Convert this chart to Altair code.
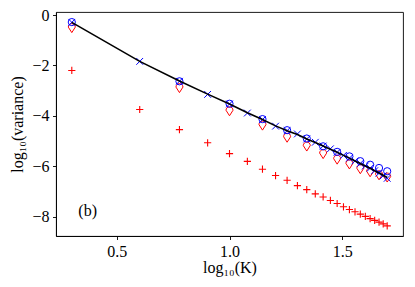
import altair as alt
import numpy as np
import pandas as pd

# K values (x = log10 K)
K_all = [2, 4, 6, 8, 10, 12, 14, 16, 18, 20, 22, 24, 26, 28, 30, 32, 34, 36, 38, 40, 42, 44, 46, 48, 50]
K_sub = [2, 6, 10, 14, 18, 22, 26, 30, 34, 38, 42, 46, 50]

# black curve (theory)
line_y = [-0.29, -1.84, -2.62, -3.14, -3.53, -3.88, -4.15, -4.40, -4.59, -4.74, -4.92, -5.06, -5.20,
          -5.33, -5.45, -5.57, -5.68, -5.79, -5.89, -5.99, -6.08, -6.18, -6.27, -6.36, -6.45]
# blue crosses
cross_y = [-0.29, -1.84, -2.63, -3.15, -3.53, -3.89, -4.15, -4.41, -4.59, -4.72, -4.92, -5.05, -5.20,
           -5.31, -5.45, -5.57, -5.68, -5.79, -5.89, -5.99, -6.08, -6.18, -6.28, -6.38, -6.48]
# blue open circles
circle_y = [-0.28, -2.63, -3.52, -4.13, -4.57, -4.90, -5.21, -5.43, -5.61, -5.80, -5.94, -6.07, -6.20]
# red pin markers
pin_y = [-0.50, -2.88, -3.80, -4.37, -4.85, -5.20, -5.50, -5.72, -5.91, -6.10, -6.22, -6.34, -6.43]
# red plus markers
plus_y = [-2.20, -3.75, -4.55, -5.07, -5.50, -5.81, -6.12, -6.37, -6.56, -6.77, -6.93, -7.10, -7.22,
          -7.36, -7.48, -7.61, -7.72, -7.81, -7.90, -7.99, -8.08, -8.15, -8.22, -8.29, -8.37]

x_ticks = [0.5, 1.0, 1.5]
y_ticks = [0, -2, -4, -6, -8]


def frame(K, y):
    return pd.DataFrame({"x": np.log10(np.array(K, dtype=float)), "y": y})


FONT = "Liberation Serif"
W, H = 347, 224

xs = alt.Scale(domain=[0.231, 1.769], nice=False, zero=False)
ys = alt.Scale(domain=[-8.77, 0.12], nice=False, zero=False)

X = alt.X("x:Q", scale=xs, axis=alt.Axis(
    values=x_ticks, format=".1f", title="log₁₀(K)", grid=False,
    titleX=W / 2, titleY=31, titleAlign="center", titleBaseline="middle"))
Y = alt.Y("y:Q", scale=ys, axis=alt.Axis(
    values=y_ticks, format="d", title="log₁₀(variance)", grid=False,
    titleX=-39, titleY=H / 2, titleAngle=270, titleAlign="center", titleBaseline="middle"))

plus_path = "M -1 0 L 1 0 M 0 -1 L 0 1"
x_path = "M -1 -1 L 1 1 M -1 1 L 1 -1"
pin_path = "M -0.7 -0.1 A 0.7 0.7 0 1 1 0.7 -0.1 L 0 1 Z"

plus = alt.Chart(frame(K_all, plus_y)).mark_point(
    shape=plus_path, filled=False, color="#ff0000", size=52, strokeWidth=1.1, opacity=1
).encode(x=X, y=Y)

pins = alt.Chart(frame(K_sub, pin_y)).mark_point(
    shape=pin_path, filled=False, color="#ff0000", size=100, strokeWidth=1.0, opacity=1
).encode(x=X, y=Y)

circles = alt.Chart(frame(K_sub, circle_y)).mark_point(
    shape="circle", filled=False, color="#0000ff", size=52, strokeWidth=1.0, opacity=1
).encode(x=X, y=Y)

crosses = alt.Chart(frame(K_all, cross_y)).mark_point(
    shape=x_path, filled=False, color="#0000ff", size=46, strokeWidth=1.0, opacity=1
).encode(x=X, y=Y)

curve = alt.Chart(frame(K_all, line_y)).mark_line(
    color="black", strokeWidth=1.6
).encode(x=X, y=Y)

label = alt.Chart(pd.DataFrame({"x": [0.33], "y": [-7.78], "t": ["(b)"]})).mark_text(
    align="left", baseline="middle", font=FONT, fontSize=16, color="black"
).encode(x=X, y=Y, text="t:N")

chart = alt.layer(plus, pins, circles, crosses, curve, label).properties(
    width=W, height=H,
    autosize=alt.AutoSizeParams(type="none"),
    padding={"left": 48, "top": 4, "right": 4, "bottom": 43},
).configure_view(
    stroke="black", strokeWidth=0.9
).configure_axis(
    labelFont=FONT, titleFont=FONT, labelFontSize=16, titleFontSize=16,
    labelColor="black", titleColor="black", titleFontWeight="normal",
    domainColor="black", domainWidth=0.9, tickColor="black", tickWidth=0.9,
    tickSize=3.5, labelPadding=3.5
)

chart.save("out.html", embed_options={"renderer": "svg", "actions": False})
